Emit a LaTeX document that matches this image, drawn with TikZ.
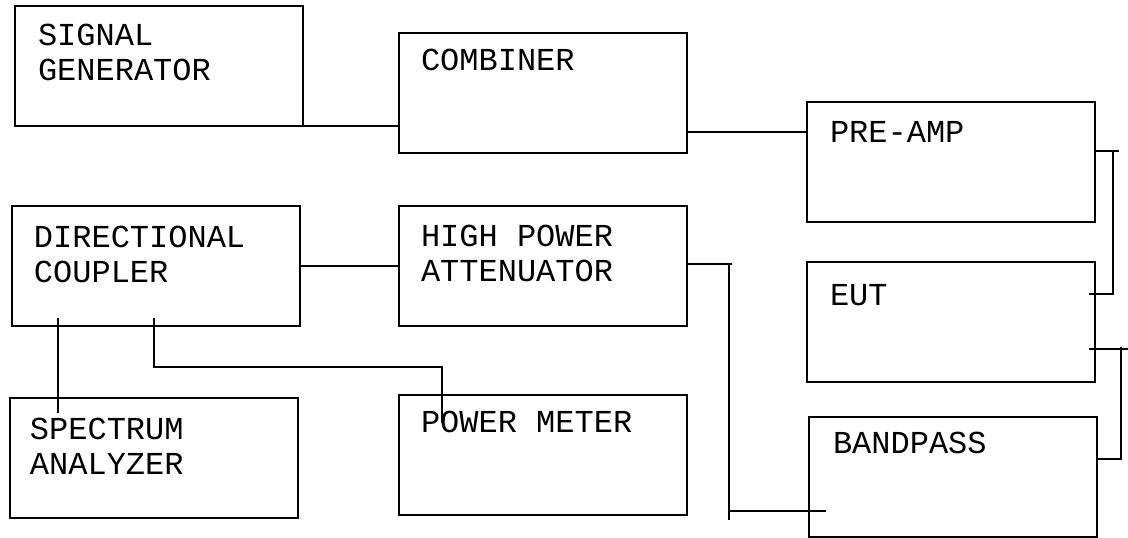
\documentclass[tikz,border=0pt]{standalone}
\usepackage{fontspec}
\setmainfont{Liberation Mono}
\usetikzlibrary{calc}
\begin{document}
\begin{tikzpicture}[x=1pt,y=-1pt,line width=2pt,
  box/.style={draw=black,line width=2pt,minimum width=288pt,minimum height=120pt,inner sep=0pt,outer sep=0pt,anchor=north west},
  lbl/.style={anchor=base west,inner sep=0pt,align=left,font=\fontsize{32}{35}\selectfont},
  wire/.style={draw=black,line width=2pt}]
\fill[white] (0,0) rectangle (1128,538);
\useasboundingbox (0,0) rectangle (1128,538);
% boxes
\node[box] (sg) at (15,6) {};
\node[box] (cb) at (399,33) {};
\node[box] (pa) at (807,102) {};
\node[box] (dc) at (12,206) {};
\node[box] (hpa) at (399,206) {};
\node[box] (eut) at (807,262) {};
\node[box] (sa) at (10,398) {};
\node[box] (pm) at (399,395) {};
\node[box] (bp) at (809,417) {};
% labels (base = baseline of last line)
\node[lbl] (tsg) at (37,80) {SIGNAL\\GENERATOR};
\node[lbl] (tcb) at (420,70) {COMBINER};
\node[lbl] (tpa) at (829,142) {PRE-AMP};
\node[lbl] (tdc) at (33,282) {DIRECTIONAL\\COUPLER};
\node[lbl] (thpa) at (420,281) {HIGH POWER\\ATTENUATOR};
\node[lbl] (teut) at (829,305) {EUT};
\node[lbl] (tsa) at (29,474) {SPECTRUM\\ANALYZER};
\node[lbl] (tpm) at (420,432) {POWER METER};
\node[lbl] (tbp) at (832,453) {BANDPASS};
% free-end coordinates
\coordinate (c1) at (1119,151);
\coordinate (c2) at (1113,151);
\coordinate (c3) at (1089,294);
\coordinate (c4) at (1089,349);
\coordinate (c5) at (1128,349);
\coordinate (c6) at (1121,347);
\coordinate (c7) at (1121,459);
\coordinate (c8) at (732,264);
\coordinate (c9) at (729,264);
\coordinate (c10) at (729,520);
\coordinate (c11) at (729,511);
\coordinate (c12) at (826,511);
\coordinate (c13) at (58,318);
\coordinate (c14) at (58,413);
\coordinate (c15) at (154,318);
\coordinate (c16) at (442,367);
\coordinate (c17) at (442,423);
% connectors
\draw[wire] (sg.south east) -- (sg.south east -| cb.west);
\draw[wire] (cb.east |- 0,132) -- (pa.west |- 0,132);
\draw[wire] (pa.east |- c1) -- (c1);
\draw[wire] (c2) |- (c3);
\draw[wire] (c4) -- (c5);
\draw[wire] (c6) |- (bp.east |- c7);
\draw[wire] (hpa.east |- c8) -- (c8);
\draw[wire] (c9) -- (c10);
\draw[wire] (c11) -- (c12);
\draw[wire] (dc.east |- 0,266) -- (hpa.west |- 0,266);
\draw[wire] (c13) -- (c14);
\draw[wire] (c15) |- (c16) -- (c17);
\end{tikzpicture}
\end{document}
